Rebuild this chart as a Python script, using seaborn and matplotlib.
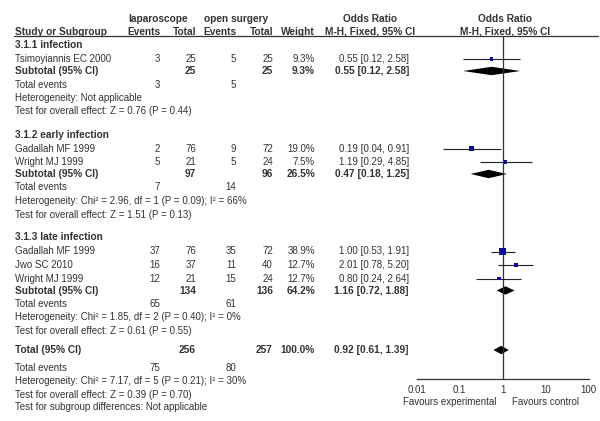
import numpy as np
import pandas as pd
import matplotlib
matplotlib.use("Agg")
import matplotlib.pyplot as plt
import seaborn as sns

sns.set_style("white")
plt.rcParams['font.family'] = ['Liberation Sans', 'DejaVu Sans']

# ---- data ----
group_names = ["3.1.1 infection", "3.1.2 early infection", "3.1.3 late infection"]

study_group = [0, 1, 1, 2, 2, 2]
study_names = ["Tsimoyiannis EC 2000", "Gadallah MF 1999", "Wright MJ 1999",
               "Gadallah MF 1999", "Jwo SC 2010", "Wright MJ 1999"]
lap_events = [3, 2, 5, 37, 16, 12]
lap_total = [25, 76, 21, 76, 37, 21]
open_events = [5, 9, 5, 35, 11, 15]
open_total = [25, 72, 24, 72, 40, 24]
weights = [9.3, 19.0, 7.5, 38.9, 12.7, 12.7]
or_est = [0.55, 0.19, 1.19, 1.00, 2.01, 0.80]
or_lo = [0.12, 0.04, 0.29, 0.53, 0.78, 0.24]
or_hi = [2.58, 0.91, 4.85, 1.91, 5.20, 2.64]

sub_lap_total = [25, 97, 134]
sub_open_total = [25, 96, 136]
sub_weight = [9.3, 26.5, 64.2]
sub_est = [0.55, 0.47, 1.16]
sub_lo = [0.12, 0.18, 0.72]
sub_hi = [2.58, 1.25, 1.88]
sub_lap_events = [3, 7, 65]
sub_open_events = [5, 14, 61]
sub_het = ["Heterogeneity: Not applicable",
           "Heterogeneity: Chi\u00b2 = 2.96, df = 1 (P = 0.09); I\u00b2 = 66%",
           "Heterogeneity: Chi\u00b2 = 1.85, df = 2 (P = 0.40); I\u00b2 = 0%"]
sub_test = ["Test for overall effect: Z = 0.76 (P = 0.44)",
            "Test for overall effect: Z = 1.51 (P = 0.13)",
            "Test for overall effect: Z = 0.61 (P = 0.55)"]

tot_lap_total, tot_open_total = 256, 257
tot_est, tot_lo, tot_hi = 0.92, 0.61, 1.39
tot_lap_events, tot_open_events = 75, 80
tot_het = "Heterogeneity: Chi\u00b2 = 7.17, df = 5 (P = 0.21); I\u00b2 = 30%"
tot_test = "Test for overall effect: Z = 0.39 (P = 0.70)"
tot_sub = "Test for subgroup differences: Not applicable"

ticks = [0.01, 0.1, 1, 10, 100]
tick_labels = ["0.01", "0.1", "1", "10", "100"]

# ---- layout (pixel coordinates) ----
W, H = 600, 421
TXT = "#333333"
fs = 7.0
x_name, x_le, x_lt, x_oe, x_ot, x_w, x_or = 15, 160, 196, 236, 273, 315, 409
plot_left, plot_right = 416.7, 588.7
axis_y, head_line_y = 379, 36

fig = plt.figure(figsize=(6.0, 4.21), dpi=100)
ax = fig.add_axes([0, 0, 1, 1])
ax.set_xlim(0, W)
ax.set_ylim(H, 0)
ax.axis("off")

fax = fig.add_axes([plot_left / W, 1 - axis_y / H, (plot_right - plot_left) / W,
                    (axis_y - head_line_y) / H])
fax.set_xscale("log")
fax.set_xlim(0.01, 100)
fax.set_ylim(axis_y, head_line_y)
fax.patch.set_alpha(0)
for s in ["top", "left", "right"]:
    fax.spines[s].set_visible(False)
fax.spines["bottom"].set_color(TXT)
fax.spines["bottom"].set_linewidth(0.9)
fax.set_yticks([])
fax.set_xticks(ticks)
fax.set_xticklabels(tick_labels, fontsize=fs, color=TXT)
fax.minorticks_off()
fax.tick_params(axis="x", direction="inout", length=6, width=0.9, color=TXT, pad=1)
fax.axvline(1, color=TXT, lw=0.9)


def t(x, y, s, ha="left", bold=False):
    ax.text(x, y, s, ha=ha, va="center", fontsize=fs + (0.3 if bold else 0), color=TXT,
            fontweight="bold" if bold else "normal")


def diamond(y, est, lo, hi, half=4.2):
    fax.fill([lo, est, hi, est], [y, y - half, y, y + half], color="black", lw=0)


# header
t(128, 19, "laparoscope", bold=True)
t(204, 19, "open surgery", bold=True)
t(x_name, 32, "Study or Subgroup", bold=True)
t(x_le, 32, "Events", ha="right", bold=True)
t(x_lt, 32, "Total", ha="right", bold=True)
t(x_oe, 32, "Events", ha="right", bold=True)
t(x_ot, 32, "Total", ha="right", bold=True)
t(x_w, 32, "Weight", ha="right", bold=True)
t(370, 19, "Odds Ratio", ha="center", bold=True)
t(370, 32, "M-H, Fixed, 95% CI", ha="center", bold=True)
t(505, 19, "Odds Ratio", ha="center", bold=True)
t(505, 32, "M-H, Fixed, 95% CI", ha="center", bold=True)
ax.plot([14, 598], [head_line_y, head_line_y], color=TXT, lw=0.9)

rows = []
y = 45
for g, gname in enumerate(group_names):
    t(x_name, y, gname, bold=True)
    y += 14
    idx = [i for i, sg in enumerate(study_group) if sg == g]
    for k, i in enumerate(idx):
        t(x_name, y, study_names[i])
        t(x_le, y, str(lap_events[i]), ha="right")
        t(x_lt, y, str(lap_total[i]), ha="right")
        t(x_oe, y, str(open_events[i]), ha="right")
        t(x_ot, y, str(open_total[i]), ha="right")
        t(x_w, y, f"{weights[i]:.1f}%", ha="right")
        t(x_or, y, f"{or_est[i]:.2f} [{or_lo[i]:.2f}, {or_hi[i]:.2f}]", ha="right")
        rows.append(y)
        y += 13.5 if k < len(idx) - 1 else 12
    t(x_name, y, "Subtotal (95% CI)", bold=True)
    t(x_lt, y, str(sub_lap_total[g]), ha="right", bold=True)
    t(x_ot, y, str(sub_open_total[g]), ha="right", bold=True)
    t(x_w, y, f"{sub_weight[g]:.1f}%", ha="right", bold=True)
    t(x_or, y, f"{sub_est[g]:.2f} [{sub_lo[g]:.2f}, {sub_hi[g]:.2f}]", ha="right", bold=True)
    diamond(y, sub_est[g], sub_lo[g], sub_hi[g])
    y += 13.5
    t(x_name, y, "Total events")
    t(x_le, y, str(sub_lap_events[g]), ha="right")
    t(x_oe, y, str(sub_open_events[g]), ha="right")
    y += 13.5
    t(x_name, y, sub_het[g])
    y += 13.5
    t(x_name, y, sub_test[g])
    y += 23

y -= 4
t(x_name, y, "Total (95% CI)", bold=True)
t(x_lt, y, str(tot_lap_total), ha="right", bold=True)
t(x_ot, y, str(tot_open_total), ha="right", bold=True)
t(x_w, y, "100.0%", ha="right", bold=True)
t(x_or, y, f"{tot_est:.2f} [{tot_lo:.2f}, {tot_hi:.2f}]", ha="right", bold=True)
diamond(y, tot_est, tot_lo, tot_hi)
y += 18
t(x_name, y, "Total events")
t(x_le, y, str(tot_lap_events), ha="right")
t(x_oe, y, str(tot_open_events), ha="right")
y += 13.5
t(x_name, y, tot_het)
y += 13.5
t(x_name, y, tot_test)
y += 12.5
t(x_name, y, tot_sub)

# study squares and CI lines
df = pd.DataFrame({"or": or_est, "lo": or_lo, "hi": or_hi, "w": weights, "row": rows})
fax.hlines(df["row"], df["lo"], df["hi"], color="#222222", lw=0.8)
sns.scatterplot(data=df, x="or", y="row", size="w", sizes=(0.65 * 7.5, 0.65 * 38.9),
                size_norm=(7.5, 38.9), marker="s", color="#0a0aa0", linewidth=0,
                legend=False, ax=fax, zorder=3)
fax.set_xlabel("")
fax.set_ylabel("")

t(450, 402, "Favours experimental", ha="center")
t(545, 402, "Favours control", ha="center")

fig.savefig("out.png", dpi=100)
